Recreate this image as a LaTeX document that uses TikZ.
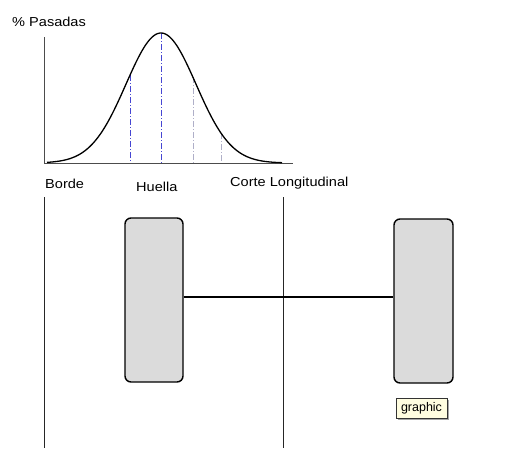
\documentclass[tikz,border=0pt]{standalone}
\usepackage{fontspec}
\setmainfont{Liberation Sans}
\definecolor{mblue}{RGB}{70,70,210}
\definecolor{mgray}{RGB}{175,175,200}
\begin{document}
\begin{tikzpicture}[x=1pt,y=-1pt,
  lbl/.style={font=\fontsize{13}{15}\selectfont, inner sep=0pt, anchor=west, xscale=1.12},
  tire/.style={draw=black, line width=1.4pt, fill=gray!28, rounded corners=6pt},
  axis/.style={draw=black!70, line width=0.6pt},
  cut/.style={draw=black!85, line width=1pt},
  mark1/.style={draw=mblue, line width=0.9pt, dash pattern=on 6pt off 2pt on 1pt off 2pt},
  mark2/.style={draw=mgray, line width=0.8pt, dash pattern=on 6pt off 2pt on 1pt off 2pt}]
\useasboundingbox (0,0) rectangle (512,448);
% axes
\coordinate (o) at (44,163);
\coordinate (ytop) at (44,37);
\coordinate (xend) at (293,163);
\draw[axis] (ytop) -- (o) -- (xend);
% markers
\coordinate (m1t) at (130,{163-130*exp(-(31^2)/(2*35*35))});
\coordinate (m1b) at (130,163);
\coordinate (m2t) at (161,33);
\coordinate (m2b) at (161,163);
\coordinate (m3t) at (193,{163-130*exp(-(32^2)/(2*35*35))});
\coordinate (m3b) at (193,163);
\coordinate (m4t) at (221,{163-130*exp(-(60^2)/(2*35*35))});
\coordinate (m4b) at (221,163);
\draw[mark1] (m1t) -- (m1b);
\draw[mark1] (m2t) -- (m2b);
\draw[mark2] (m3t) -- (m3b);
\draw[mark2] (m4t) -- (m4b);
% gaussian curve
\draw[black, line width=1.3pt, domain=47:282, samples=120, smooth]
  plot (\x, {163-130*exp(-((\x-161)^2)/(2*35*35))});
% labels
\node[lbl] (pas) at (12,22) {\% Pasadas};
\node[lbl] (borde) at (45,184) {Borde};
\node[lbl] (huella) at (136,187) {Huella};
\node[lbl] (corte) at (230,183) {Corte Longitudinal};
% vertical section lines
\coordinate (v1t) at (44,197);
\coordinate (v1b) at (44,448);
\coordinate (v2t) at (283,197);
\coordinate (v2b) at (283,448);
\draw[cut] (v1t) -- (v1b);
\draw[cut] (v2t) -- (v2b);
% tires
\node[tire, minimum width=58pt, minimum height=164pt, inner sep=0pt] (lt) at (154,300) {};
\node[tire, minimum width=59pt, minimum height=164pt, inner sep=0pt] (rt) at (423.5,301) {};
\draw[black, line width=1.6pt] (lt.east |- 0,297) -- (rt.west |- 0,297);
% graphic tag
\fill[black!35] (398,400) rectangle (449,420);
\node[draw=black!80, fill=yellow!12, line width=0.6pt, minimum width=51pt, minimum height=20pt, inner sep=0pt,
  font=\fontsize{12.5}{14}\selectfont] (g) at (421.5,408) {graphic};
\end{tikzpicture}
\end{document}
